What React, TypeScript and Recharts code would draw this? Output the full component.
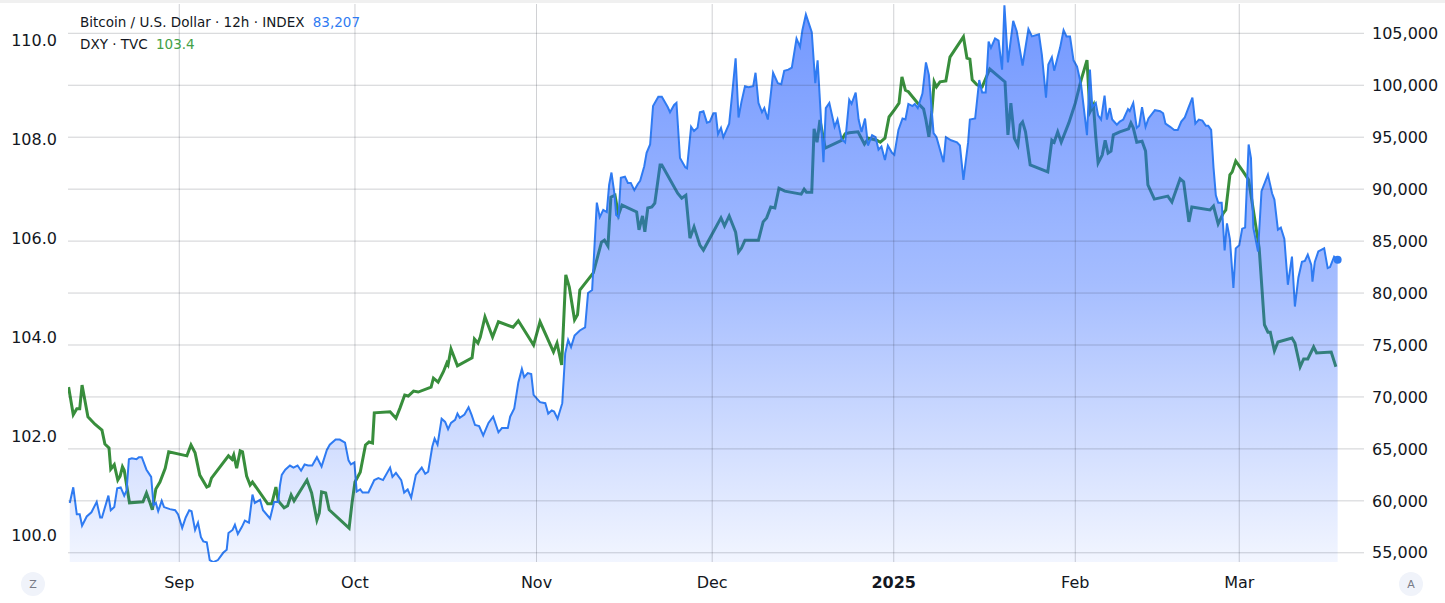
import { ComposedChart, Area, XAxis, YAxis, ReferenceLine, ReferenceDot } from 'recharts'

// time is in days counted from 1 Sep 2024 (negative = August)
const btcDays = [
  -18.7, -18.1, -17.5, -17.0, -16.6, -15.8, -15.0, -14.1, -13.5, -13.2, -12.1, -11.7, -11.1, -10.6, -10.0,
  -9.4, -9.0, -8.6, -8.1, -7.3, -6.9, -6.4, -5.6, -4.8, -4.4, -4.0, -3.6, -3.0, -2.6, -1.6, -0.7, -0.2,
  0.5, 1.1, 1.7, 2.1, 2.7, 3.2, 3.7, 4.1, 4.7, 5.2, 5.8, 6.6, 7.5, 8.1, 8.4, 9.1, 9.5, 10.0, 10.7, 11.2,
  11.9, 12.5, 12.9, 13.8, 14.3, 15.5, 16.2, 16.9, 17.2, 17.5, 18.1, 18.9, 19.5, 20.2, 20.8, 21.4, 22.0,
  22.7, 23.5, 24.3, 25.2, 25.7, 26.7, 27.4, 28.3, 28.9, 29.3, 29.9, 30.3, 30.9, 31.3, 32.3, 33.3, 34.0,
  34.8, 36.0, 36.4, 37.0, 37.9, 38.4, 39.0, 39.6, 40.4, 41.4, 42.0, 42.5, 43.2, 43.6, 44.1, 44.8, 45.4,
  45.9, 46.4, 47.1, 47.5, 47.9, 48.7, 49.4, 49.9, 50.5, 51.2, 51.9, 52.8, 53.6, 54.5, 55.1, 56.1, 56.5,
  57.2, 57.9, 58.5, 58.9, 59.5, 60.1, 60.5, 61.6, 62.5, 63.0, 63.6, 64.0, 64.6, 65.4, 65.9, 66.4, 66.9,
  67.5, 68.4, 69.3, 69.8, 70.5, 71.3, 71.8, 72.4, 73.0, 73.4, 73.8, 74.3, 74.6, 75.0, 75.4, 76.1, 76.6,
  77.1, 77.7, 78.3, 78.7, 79.4, 79.8, 80.4, 80.9, 81.8, 82.4, 83.4, 83.8, 84.5, 84.9, 85.5, 86.4, 86.7,
  87.4, 87.9, 88.5, 88.9, 89.5, 90.1, 90.6, 91.2, 91.6, 92.0, 92.5, 92.9, 93.9, 94.4, 95.0, 95.5, 96.0,
  96.6, 97.2, 98.0, 98.4, 98.9, 99.5, 99.9, 100.5, 101.0, 101.4, 102.2, 102.8, 103.3, 104.0, 104.6,
  105.4, 106.0, 106.4, 107.0, 108.0, 108.6, 109.0, 110.0, 110.4, 111.0, 111.9, 112.4, 113.1, 113.7,
  114.4, 114.8, 115.5, 116.0, 116.5, 117.1, 117.6, 118.3, 118.9, 119.4, 119.9, 120.5, 121.0, 121.7,
  122.1, 122.8, 123.5, 124.0, 124.5, 125.2, 125.6, 126.1, 126.9, 127.5, 128.0, 128.8, 129.3, 130.5,
  130.9, 131.8, 132.8, 133.3, 133.9, 134.7, 135.0, 135.9, 136.6, 137.1, 137.7, 138.2, 138.6, 139.3,
  139.9, 140.5, 140.9, 141.5, 142.4, 143.0, 144.0, 145.0, 145.6, 146.8, 147.3, 148.0, 148.4, 149.0,
  149.4, 150.4, 151.0, 151.5, 152.1, 152.7, 153.3, 154.0, 155.0, 155.5, 155.9, 156.5, 156.9, 157.4,
  158.0, 158.4, 158.9, 159.3, 160.1, 160.6, 161.2, 162.0, 162.3, 162.9, 163.5, 163.9, 164.4, 165.0,
  165.5, 166.6, 167.5, 168.0, 168.4, 169.2, 169.9, 170.5, 171.1, 171.7, 172.3, 173.0, 173.5, 174.1,
  174.7, 175.3, 175.7, 176.2, 176.6, 177.0, 177.4, 178.0, 178.5, 178.9, 179.4, 180.0, 180.4, 181.0,
  181.5, 182.0, 182.6, 183.0, 183.4, 184.2, 184.8, 185.9, 186.6, 187.0, 187.6, 188.1, 188.7, 189.3,
  190.0, 190.5, 191.1, 191.7, 192.2, 192.7, 193.3, 193.5, 193.9, 194.5, 195.5, 196.1, 196.5, 197.2, 197.8,
]

const btcPrices = [
  59800, 61300, 58700, 58700, 57600, 58500, 58900, 59900, 58400, 58400, 60500, 59100, 59400, 61200, 61300,
  60500, 61000, 64000, 64100, 64000, 64200, 64200, 63000, 62300, 59600, 59800, 59000, 60000, 59400, 59200,
  59100, 58700, 57400, 58400, 59100, 59000, 57200, 57900, 56500, 56100, 56000, 54300, 54100, 54300, 55000,
  55300, 56900, 57200, 57700, 56800, 57500, 58100, 57900, 60600, 59800, 60100, 59100, 58300, 59900, 59900,
  61500, 62500, 63000, 63400, 63200, 63400, 62900, 63500, 63400, 63400, 64200, 63300, 64900, 65400, 65900,
  65900, 65600, 63900, 63500, 63700, 60900, 61100, 60800, 60800, 62000, 62200, 62000, 63200, 62300, 62700,
  62000, 60800, 61100, 60300, 62500, 63200, 62600, 62800, 65200, 66000, 65400, 67900, 67600, 66900, 67500,
  67800, 68400, 68000, 68300, 69000, 68300, 67300, 67200, 66300, 67500, 68100, 66600, 67000, 67000, 68100,
  68900, 71400, 72700, 71900, 72300, 72200, 70200, 69500, 69400, 68400, 68700, 68600, 67900, 69400, 74200,
  75500, 74800, 75900, 76400, 76700, 80000, 80300, 88700, 87300, 88000, 87800, 90400, 91600, 89600, 87500,
  87300, 91100, 91200, 90600, 90600, 89900, 90500, 90800, 92200, 93500, 94300, 98000, 98900, 98900, 97900,
  97400, 98100, 98300, 93000, 92100, 92000, 96000, 95600, 95900, 97400, 97500, 96400, 96500, 97300, 97300,
  95300, 95900, 95000, 96300, 99100, 102600, 96900, 98400, 99900, 99800, 99900, 101200, 98300, 97400,
  97800, 96700, 99100, 101200, 100200, 100100, 101400, 101500, 101700, 104500, 103700, 105300, 106800,
  105100, 100200, 102400, 92600, 97800, 98300, 96000, 96700, 94800, 94500, 98600, 98200, 99300, 96700,
  95500, 96800, 94200, 95200, 95000, 93800, 94100, 92800, 94200, 93500, 93300, 95700, 96800, 96700, 98200,
  98000, 98200, 97800, 99200, 102200, 101000, 95400, 95000, 92600, 95000, 94700, 94500, 94200, 90900,
  94500, 96700, 96800, 100500, 99300, 99300, 104200, 103600, 104500, 104300, 101500, 107700, 102200,
  106200, 105200, 101900, 105400, 104700, 104900, 102900, 98800, 102000, 102700, 101400, 103600, 105300,
  104700, 104700, 102400, 101800, 100000, 95200, 101500, 97900, 98300, 97100, 96700, 99000, 96700, 97800,
  96700, 96200, 96500, 96700, 97700, 97500, 98300, 95900, 96100, 97900, 96000, 96800, 97600, 97500, 97300,
  96300, 96000, 95700, 95700, 96500, 96900, 97800, 98800, 96300, 96700, 96600, 96100, 96100, 95700, 92100,
  89400, 88700, 88700, 84100, 86700, 85200, 80500, 84300, 84600, 86200, 86300, 94300, 93000, 86300, 84000,
  89800, 91400, 89600, 89000, 86100, 86300, 85200, 80800, 83500, 78700, 81500, 83000, 83100, 83700, 82700,
  81100, 83000, 84000, 84300, 82400, 82500, 83500, 83207,
]

const dxyDays = [
  -18.9, -18.1, -17.5, -17.0, -16.6, -15.6, -14.4, -13.2, -12.7, -12.0, -11.7, -11.1, -10.5, -10.1, -9.7,
  -9.4, -8.5, -6.2, -5.6, -5.0, -4.6, -4.0, -3.3, -2.4, -1.8, 1.3, 2.0, 2.7, 3.5, 4.7, 5.1, 5.5, 8.4, 9.0,
  9.3, 9.8, 10.4, 10.8, 11.5, 12.1, 12.5, 15.1, 15.8, 16.5, 16.9, 17.9, 18.5, 19.1, 19.6, 21.8, 22.6, 23.5,
  23.9, 24.3, 25.0, 25.6, 29.0, 29.5, 30.0, 30.9, 31.8, 32.4, 33.0, 33.3, 36.0, 37.0, 37.7, 38.5, 39.1,
  40.0, 40.8, 43.0, 43.4, 44.2, 45.1, 45.7, 45.9, 46.4, 47.5, 50.0, 50.4, 51.0, 51.4, 52.2, 53.5, 54.5,
  57.0, 57.9, 60.5, 61.6, 63.9, 64.5, 65.3, 66.0, 66.6, 67.5, 68.0, 68.4, 70.7, 72.1, 72.6, 73.2, 73.7,
  74.4, 75.0, 75.6, 78.1, 78.5, 79.1, 79.5, 80.0, 80.7, 81.2, 82.1, 82.4, 85.1, 85.8, 86.5, 87.2, 87.9,
  88.9, 89.5, 92.5, 93.1, 93.9, 95.0, 95.5, 96.0, 96.6, 98.9, 99.7, 100.3, 101.0, 101.7, 102.4, 103.4,
  106.2, 106.7, 107.1, 108.0, 108.4, 108.9, 109.4, 110.3, 113.1, 113.7, 114.4, 115.9, 117.0, 117.7, 119.1,
  119.7, 120.5, 121.2, 122.2, 122.9, 123.4, 124.0, 124.5, 126.1, 127.1, 127.5, 128.0, 128.5, 128.9, 129.3,
  129.9, 130.9, 131.6, 133.9, 134.5, 135.0, 135.4, 136.2, 137.1, 138.4, 141.0, 141.5, 142.0, 142.6, 143.2,
  143.6, 144.0, 144.5, 145.3, 148.3, 149.0, 149.4, 150.0, 150.6, 151.9, 153.0, 154.0, 155.0, 155.5, 156.1,
  156.5, 156.9, 157.6, 158.1, 158.6, 159.1, 159.5, 160.6, 162.1, 162.5, 162.9, 163.5, 164.4, 165.0, 165.4,
  166.5, 168.8, 169.5, 170.9, 171.5, 172.4, 172.9, 176.0, 176.6, 177.4, 178.3, 178.7, 179.4, 179.8, 180.4,
  181.7, 182.6, 183.4, 184.4, 185.3, 185.9, 186.3, 187.0, 187.6, 190.0, 190.5, 191.4, 192.0, 192.7, 193.7,
  194.2, 196.7, 197.5,
]

const dxyValues = [
  102.99, 102.43, 102.55, 102.55, 103.03, 102.39, 102.24, 102.12, 101.84, 101.76, 101.33, 101.42, 101.11,
  101.19, 101.38, 101.31, 100.65, 100.67, 100.85, 100.65, 100.51, 100.93, 101.07, 101.35, 101.68, 101.6,
  101.82, 101.66, 101.21, 100.97, 100.99, 101.15, 101.6, 101.53, 101.62, 101.35, 101.7, 101.68, 101.19,
  101.01, 101.07, 100.63, 100.63, 100.97, 100.69, 100.55, 100.59, 100.81, 100.69, 101.11, 100.85, 100.3,
  100.44, 100.87, 100.85, 100.51, 100.14, 100.65, 101.07, 101.27, 101.82, 101.88, 101.86, 102.47, 102.49,
  102.36, 102.57, 102.83, 102.81, 102.91, 102.89, 102.99, 103.17, 103.09, 103.3, 103.48, 103.44, 103.76,
  103.42, 103.58, 103.96, 103.88, 104.0, 104.41, 104.0, 104.31, 104.2, 104.33, 103.84, 104.31, 103.7,
  103.88, 103.44, 105.26, 105.01, 104.35, 104.45, 104.95, 105.3, 105.92, 105.96, 105.84, 106.83, 106.87,
  106.47, 106.67, 106.53, 106.17, 106.45, 106.13, 106.61, 106.63, 106.71, 107.48, 107.48, 106.91, 106.81,
  106.87, 106.0, 106.23, 105.86, 105.76, 106.41, 106.25, 106.45, 106.12, 105.72, 105.8, 105.96, 105.96,
  106.33, 106.41, 106.63, 106.61, 107.01, 106.95, 106.89, 106.99, 106.93, 106.93, 108.21, 107.94, 108.39,
  107.82, 107.98, 108.11, 108.13, 108.15, 107.9, 108.02, 107.98, 107.94, 108.02, 108.45, 108.61, 108.73,
  109.26, 108.99, 108.96, 108.73, 108.61, 108.39, 108.05, 108.55, 109.16, 109.06, 109.16, 109.18, 109.66,
  110.07, 109.64, 109.62, 109.2, 109.1, 109.06, 109.42, 109.16, 108.09, 108.73, 108.02, 107.88, 108.29,
  108.35, 108.15, 107.48, 107.34, 107.98, 107.94, 108.15, 107.94, 108.33, 108.73, 109.2, 109.6, 108.55,
  108.69, 108.05, 107.52, 107.68, 107.98, 107.72, 107.76, 108.09, 108.15, 108.21, 108.33, 108.23, 107.94,
  107.96, 107.76, 107.08, 106.79, 106.85, 106.73, 107.2, 107.14, 106.33, 106.63, 106.57, 106.65, 106.29,
  106.51, 106.57, 107.28, 107.34, 107.56, 107.34, 107.18, 106.57, 105.8, 104.25, 104.1, 104.1, 103.72,
  103.9, 103.98, 103.88, 103.4, 103.56, 103.56, 103.8, 103.68, 103.7, 103.4,
]

const monthTicks = [0, 30, 61, 91, 122, 153, 181]
const monthLabels = ['Sep', 'Oct', 'Nov', 'Dec', '2025', 'Feb', 'Mar']
const btcTicks = [55000, 60000, 65000, 70000, 75000, 80000, 85000, 90000, 95000, 100000, 105000]
const dxyTicks = [100, 102, 104, 106, 108, 110]

const btcData = btcDays.map((t, i) => ({ t, btc: btcPrices[i] }))
const dxyData = dxyDays.map((t, i) => ({ t, dxy: dxyValues[i] }))
const lastBtc = btcData[btcData.length - 1]

const BLUE = '#2f7bf2'
const GREEN = '#388e3c'
const GRID = 'rgba(40, 44, 60, 0.22)'
const FONT = '"DejaVu Sans", sans-serif'
const TEXT = '#131722'

function MonthTick({ x, y, payload }: any) {
  const label = monthLabels[monthTicks.indexOf(payload.value)]
  return (
    <text x={x} y={y} dy="0.71em" textAnchor="middle" fill={TEXT} fontSize={16} fontFamily={FONT}
      fontWeight={label === '2025' ? 700 : 400}>
      {label}
    </text>
  )
}

function CornerButton({ left, label }: { left: number; label: string }) {
  return (
    <div style={{
      position: 'absolute', left, top: 572, width: 24, height: 24, borderRadius: 12,
      background: '#f0f3fa', color: '#787b86', fontFamily: FONT, fontSize: 11,
      display: 'flex', alignItems: 'center', justifyContent: 'center',
    }}>{label}</div>
  )
}

export default function App() {
  return (
    <div style={{ position: 'absolute', left: 0, top: 0, width: 1445, height: 603, background: '#fff' }}>
      <div style={{ position: 'absolute', left: 0, top: 0, width: 1445, height: 3, background: '#f0f0f0' }} />
      <ComposedChart width={1445} height={603} margin={{ top: 4, right: 0, bottom: 0, left: 0 }}>
        <defs>
          <linearGradient id="btcFill" x1="0" y1="0" x2="0" y2="1">
            <stop offset="0%" stopColor="#2962ff" stopOpacity={0.66} />
            <stop offset="50%" stopColor="#2962ff" stopOpacity={0.42} />
            <stop offset="100%" stopColor="#2962ff" stopOpacity={0.06} />
          </linearGradient>
        </defs>
        <XAxis
          type="number"
          dataKey="t"
          domain={[-19.0, 202.3]}
          allowDataOverflow
          ticks={monthTicks}
          interval={0}
          height={41}
          axisLine={false}
          tickLine={false}
          tickSize={0}
          tickMargin={15}
          tick={<MonthTick />}
        />
        <YAxis
          yAxisId="dxy"
          orientation="left"
          width={68}
          domain={[99.454, 110.734]}
          allowDataOverflow
          ticks={dxyTicks}
          interval={0}
          axisLine={false}
          tickLine={false}
          tickSize={0}
          tickMargin={11}
          tickFormatter={(v: number) => v.toFixed(1)}
          tick={{ fill: TEXT, fontSize: 16, fontFamily: FONT }}
        />
        <YAxis
          yAxisId="btc"
          orientation="right"
          width={81}
          domain={[54114, 107820]}
          allowDataOverflow
          ticks={btcTicks}
          interval={0}
          axisLine={false}
          tickLine={false}
          tickSize={0}
          tickMargin={8}
          tickFormatter={(v: number) => v.toLocaleString('en-US')}
          tick={{ fill: TEXT, fontSize: 16, fontFamily: FONT }}
        />
        {/* grid: month lines and the price levels of the right scale */}
        {monthTicks.map((t) => (
          <ReferenceLine key={'m' + t} x={t} yAxisId="btc" stroke={GRID} strokeWidth={1} />
        ))}
        {btcTicks.map((v) => (
          <ReferenceLine key={'p' + v} y={v} yAxisId="btc" stroke={GRID} strokeWidth={1} />
        ))}
        {/* DXY drawn first so the BTC fill washes over it, like the original */}
        <Area
          yAxisId="dxy"
          data={dxyData}
          dataKey="dxy"
          type="linear"
          stroke={GREEN}
          strokeWidth={3}
          fill="none"
          dot={false}
          activeDot={false}
          isAnimationActive={false}
        />
        <Area
          yAxisId="btc"
          data={btcData}
          dataKey="btc"
          type="linear"
          stroke={BLUE}
          strokeWidth={2}
          fill="url(#btcFill)"
          fillOpacity={1}
          baseValue="dataMin"
          dot={false}
          activeDot={false}
          isAnimationActive={false}
        />
        <ReferenceDot yAxisId="btc" x={lastBtc.t} y={lastBtc.btc} r={4} fill={BLUE} stroke="none" />
      </ComposedChart>
      <div style={{ position: 'absolute', left: 80, top: 11, fontFamily: FONT, fontSize: 13.5, lineHeight: '22px', color: TEXT }}>
        <div>Bitcoin / U.S. Dollar · 12h · INDEX <span style={{ color: BLUE, marginLeft: 4 }}>83,207</span></div>
        <div>DXY · TVC <span style={{ color: '#43a047', marginLeft: 4 }}>103.4</span></div>
      </div>
      <CornerButton left={21} label="Z" />
      <CornerButton left={1399} label="A" />
    </div>
  )
}
